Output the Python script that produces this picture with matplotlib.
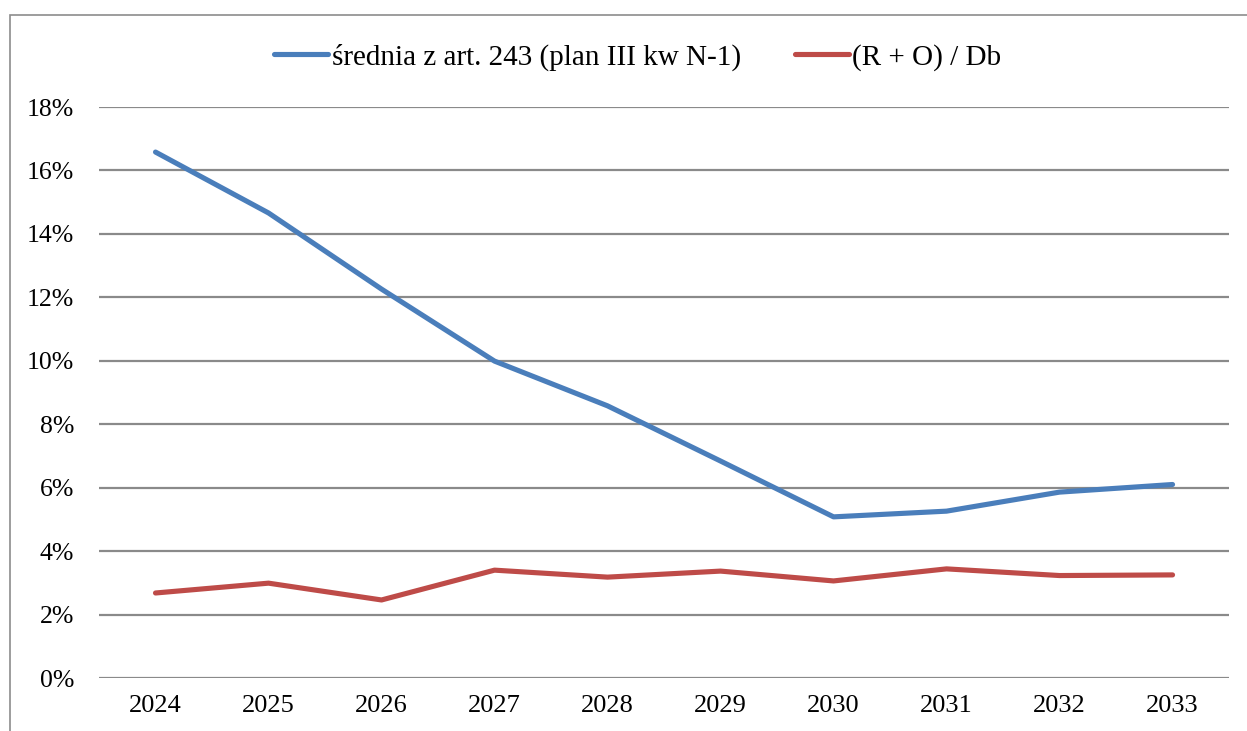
import matplotlib
matplotlib.use("Agg")
import matplotlib.pyplot as plt
from matplotlib.patches import Rectangle
from matplotlib.ticker import FuncFormatter

# dane
lata = ['2024', '2025', '2026', '2027', '2028', '2029', '2030', '2031', '2032', '2033']
srednia_243 = [16.58, 14.66, 12.26, 9.99, 8.58, 6.84, 5.08, 5.26, 5.86, 6.10]
ro_db = [2.68, 2.99, 2.46, 3.40, 3.18, 3.37, 3.06, 3.44, 3.23, 3.25]
yticks = [0, 2, 4, 6, 8, 10, 12, 14, 16, 18]

plt.rcParams['font.family'] = ['Liberation Serif', 'DejaVu Serif']

fig = plt.figure(figsize=(12.47, 7.31), dpi=100)
ax = fig.add_axes([0.0794, 0.0725, 0.9062, 0.7811])

x = list(range(len(lata)))
ax.plot(x, srednia_243, color='#4A7EBB', lw=3.7, solid_capstyle='round',
        label='średnia z art. 243 (plan III kw N-1)')
ax.plot(x, ro_db, color='#BE4B48', lw=3.7, solid_capstyle='round',
        label='(R + O) / Db')

ax.set_xlim(-0.5, len(lata) - 0.5)
ax.set_ylim(0, 18)
ax.set_yticks(yticks)
ax.yaxis.set_major_formatter(FuncFormatter(lambda v, p: '%d%%' % v))
ax.set_xticks(x)
ax.set_xticklabels(lata)
ax.yaxis.grid(True, color='#8A8A8A', lw=1.6)
ax.set_axisbelow(True)
for s in ax.spines.values():
    s.set_visible(False)
ax.tick_params(axis='both', length=0, labelsize=19)
ax.tick_params(axis='y', labelsize=18.5, pad=18)
ax.tick_params(axis='x', pad=12)

fig.legend(loc='center', bbox_to_anchor=(0.5116, 0.922), ncol=2, frameon=False,
           fontsize=21, handlelength=1.85, handletextpad=0.12, columnspacing=1.85)

# ramka wykresu
fig.patches.append(Rectangle((10 / 1247, -0.1), 1.2, 1.1 - 15 / 731,
                             transform=fig.transFigure, fill=False,
                             edgecolor='#8C8C8C', lw=1.2))

fig.savefig('out.png', dpi=100)
